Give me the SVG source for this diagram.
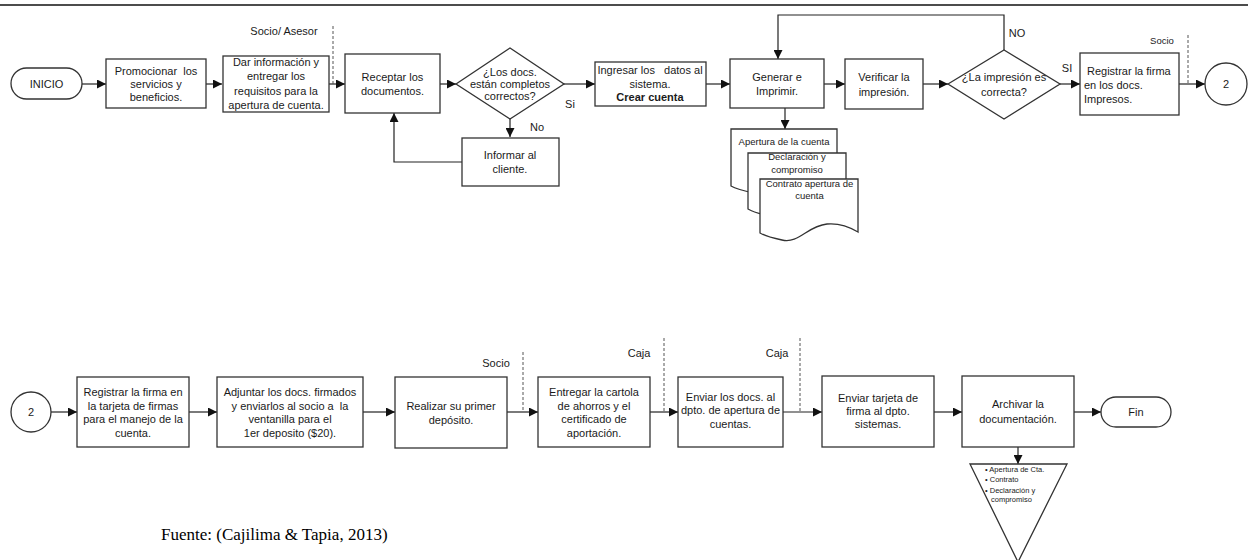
<svg xmlns="http://www.w3.org/2000/svg" width="1248" height="560" viewBox="0 0 1248 560">
<defs>
<marker id="ah" viewBox="0 0 10 10" refX="10" refY="5" markerWidth="9" markerHeight="9" markerUnits="userSpaceOnUse" orient="auto">
<path d="M0,0 L10,5 L0,10 Z" fill="#111"/>
</marker>
<style>
.b{fill:#fff;stroke:#333;stroke-width:1.3}
.t{font-family:"Liberation Sans",Arial,sans-serif;font-size:11px;fill:#1a1a1a;text-anchor:middle}
.tl{font-family:"Liberation Sans",Arial,sans-serif;font-size:11px;fill:#1a1a1a}
.bt{font-family:"Liberation Sans",Arial,sans-serif;font-size:11px;fill:#1a1a1a;text-anchor:middle}
.s{font-family:"Liberation Sans",Arial,sans-serif;font-size:9.5px;fill:#1a1a1a;text-anchor:middle}
.c{fill:none;stroke:#222;stroke-width:1.2}
.a{fill:none;stroke:#222;stroke-width:1.2;marker-end:url(#ah)}
.d{fill:none;stroke:#555;stroke-width:1;stroke-dasharray:3,2}
</style>
</defs>
<rect width="1248" height="560" fill="#fff"/>
<line x1="0" y1="5" x2="1248" y2="5" stroke="#111" stroke-width="1.5"/>

<g id="connectors">
<path class="a" d="M82,84 H106"/>
<path class="a" d="M206,84 H222"/>
<path class="a" d="M329,84 H345"/>
<path class="a" d="M440,84 H456"/>
<path class="a" d="M564,84 H595"/>
<path class="a" d="M510,119 V137"/>
<path class="a" d="M462,162 H394 V113"/>
<path class="a" d="M706,84 H730"/>
<path class="a" d="M824,84 H845"/>
<path class="a" d="M923,84 H948"/>
<path class="a" d="M1004,50 V15 H778 V59"/>
<path class="a" d="M1060,84 H1080"/>
<path class="a" d="M1179,84 H1205"/>
<path class="a" d="M785,108 V129"/>
<path class="a" d="M51,412 H77"/>
<path class="a" d="M189,412 H217"/>
<path class="a" d="M363,412 H395"/>
<path class="a" d="M507,412 H538"/>
<path class="a" d="M650,412 H678"/>
<path class="a" d="M783,412 H822"/>
<path class="a" d="M934,412 H962"/>
<path class="a" d="M1074,412 H1101"/>
<path class="a" d="M1018,447 V464"/>
</g>

<g id="lanes">
<line class="d" x1="333" y1="26" x2="333" y2="84"/>
<text class="t" x="284" y="35">Socio/ Asesor</text>
<line class="d" x1="1188" y1="35" x2="1188" y2="84"/>
<text class="s" x="1162" y="44">Socio</text>
<line class="d" x1="523" y1="352" x2="523" y2="412"/>
<text class="t" x="496" y="367">Socio</text>
<line class="d" x1="664" y1="338" x2="664" y2="412"/>
<text class="t" x="639" y="357">Caja</text>
<line class="d" x1="800" y1="338" x2="800" y2="412"/>
<text class="t" x="777" y="357">Caja</text>
</g>

<g id="labels">
<text class="t" x="570" y="108">Si</text>
<text class="t" x="537" y="131">No</text>
<text class="t" x="1017" y="37">NO</text>
<text class="t" x="1067" y="72">SI</text>
</g>

<g id="inicio">
<rect class="b" x="11" y="68" width="71" height="31" rx="15.5"/>
<text class="t" x="46.5" y="88">INICIO</text>
</g>
<g id="promocionar">
<rect class="b" x="106" y="59" width="100" height="49"/>
<text class="t" x="156" y="75" xml:space="preserve">Promocionar  los</text>
<text class="t" x="156" y="88">servicios y</text>
<text class="t" x="156" y="101">beneficios.</text>
</g>
<g id="dar-info">
<rect class="b" x="223" y="56" width="106" height="56"/>
<text class="t" x="276" y="66">Dar información y</text>
<text class="t" x="276" y="80">entregar los</text>
<text class="t" x="276" y="95">requisitos para la</text>
<text class="t" x="276" y="109">apertura de cuenta.</text>
</g>
<g id="receptar">
<rect class="b" x="345" y="54" width="95" height="59"/>
<text class="t" x="392.5" y="81">Receptar los</text>
<text class="t" x="392.5" y="95">documentos.</text>
</g>
<g id="decision-docs">
<polygon class="b" points="456,84 510,48 564,84 510,119"/>
<text class="t" x="510" y="76">¿Los docs.</text>
<text class="t" x="510" y="88">están completos</text>
<text class="t" x="510" y="100">correctos?</text>
</g>
<g id="informar">
<rect class="b" x="462" y="138" width="97" height="48"/>
<text class="t" x="510" y="159">Informar al</text>
<text class="t" x="510" y="173">cliente.</text>
</g>
<g id="ingresar">
<rect class="b" x="595" y="62" width="111" height="44"/>
<text class="t" x="650" y="74" xml:space="preserve">Ingresar los   datos al</text>
<text class="t" x="650" y="88">sistema.</text>
<text class="t" x="650" y="101" font-weight="bold">Crear cuenta</text>
</g>
<g id="generar">
<rect class="b" x="730" y="59" width="94" height="49"/>
<text class="t" x="777" y="81">Generar e</text>
<text class="t" x="777" y="95">Imprimir.</text>
</g>
<g id="documentos">
<path class="b" d="M731,129 H837 V185 C826,179 816,176 803,177 C782,179 773,197 754,193 C744,191 736,189 731,186 Z"/>
<text class="s" x="784" y="145">Apertura de la cuenta</text>
<path class="b" d="M748,153 H846 V208 C836,202 826,199 815,200 C795,202 787,220 770,216 C760,214 753,212 748,209 Z"/>
<text class="s" x="797" y="160">Declaración y</text>
<text class="s" x="797" y="173">compromiso</text>
<path class="b" d="M760,179 H858 V232 C848,226 838,223 827,224 C807,226 799,244 782,240 C772,238 765,236 760,233 Z"/>
<text class="s" x="809.5" y="187">Contrato apertura de</text>
<text class="s" x="809.5" y="199">cuenta</text>
</g>
<g id="verificar">
<rect class="b" x="845" y="59" width="78" height="50"/>
<text class="t" x="884" y="81">Verificar la</text>
<text class="t" x="884" y="96">impresión.</text>
</g>
<g id="decision-impresion">
<polygon class="b" points="948,84 1004,50 1060,84 1004,119"/>
<text class="t" x="1004" y="81">¿La impresión es</text>
<text class="t" x="1004" y="96">correcta?</text>
</g>
<g id="registrar-docs">
<rect class="b" x="1080" y="53" width="99" height="62"/>
<text class="tl" x="1087" y="75">Registrar la firma</text>
<text class="tl" x="1084" y="89">en los docs.</text>
<text class="tl" x="1084" y="103">Impresos.</text>
</g>
<g id="conector-2a">
<circle class="b" cx="1226" cy="84" r="21"/>
<text class="t" x="1226" y="88">2</text>
</g>

<g id="conector-2b">
<circle class="b" cx="31" cy="412" r="20"/>
<text class="t" x="31" y="416">2</text>
</g>
<g id="registrar-tarjeta">
<rect class="b" x="77" y="377" width="112" height="70"/>
<text class="bt" x="133" y="396">Registrar la firma en</text>
<text class="bt" x="133" y="410">la tarjeta de firmas</text>
<text class="bt" x="133" y="423">para el manejo de la</text>
<text class="bt" x="133" y="437">cuenta.</text>
</g>
<g id="adjuntar">
<rect class="b" x="217" y="377" width="146" height="70"/>
<text class="bt" x="290" y="396">Adjuntar los docs. firmados</text>
<text class="bt" x="290" y="410" xml:space="preserve">y enviarlos al socio a  la</text>
<text class="bt" x="290" y="423">ventanilla para el</text>
<text class="bt" x="290" y="437">1er deposito ($20).</text>
</g>
<g id="realizar">
<rect class="b" x="395" y="377" width="112" height="71"/>
<text class="bt" x="451" y="410">Realizar su primer</text>
<text class="bt" x="451" y="424">depósito.</text>
</g>
<g id="entregar">
<rect class="b" x="538" y="377" width="112" height="70"/>
<text class="bt" x="594" y="396">Entregar la cartola</text>
<text class="bt" x="594" y="410">de ahorros y el</text>
<text class="bt" x="594" y="423">certificado de</text>
<text class="bt" x="594" y="437">aportación.</text>
</g>
<g id="enviar-docs">
<rect class="b" x="678" y="377" width="105" height="70"/>
<text class="bt" x="730.5" y="401">Enviar los docs. al</text>
<text class="bt" x="730.5" y="414">dpto. de apertura de</text>
<text class="bt" x="730.5" y="428">cuentas.</text>
</g>
<g id="enviar-tarjeta">
<rect class="b" x="822" y="376" width="112" height="71"/>
<text class="bt" x="878" y="402">Enviar tarjeta de</text>
<text class="bt" x="878" y="415">firma al dpto.</text>
<text class="bt" x="878" y="428">sistemas.</text>
</g>
<g id="archivar">
<rect class="b" x="962" y="376" width="112" height="71"/>
<text class="bt" x="1018" y="408">Archivar la</text>
<text class="bt" x="1018" y="423">documentación.</text>
</g>
<g id="fin">
<rect class="b" x="1101" y="397" width="70" height="30" rx="15"/>
<text class="t" x="1136" y="416">Fin</text>
</g>
<g id="archivo">
<polygon class="b" points="970,464 1067,464 1018,562"/>
<g font-family="'Liberation Sans',Arial,sans-serif" font-size="7.5" fill="#1a1a1a">
<text x="985" y="472">• Apertura de Cta.</text>
<text x="985" y="482">• Contrato</text>
<text x="985" y="493">• Declaración y</text>
<text x="991" y="502">compromiso</text>
</g>
</g>

<text x="161" y="540" font-family="'Liberation Serif','Times New Roman',serif" font-size="17" fill="#000">Fuente: (Cajilima &amp; Tapia, 2013)</text>
</svg>
